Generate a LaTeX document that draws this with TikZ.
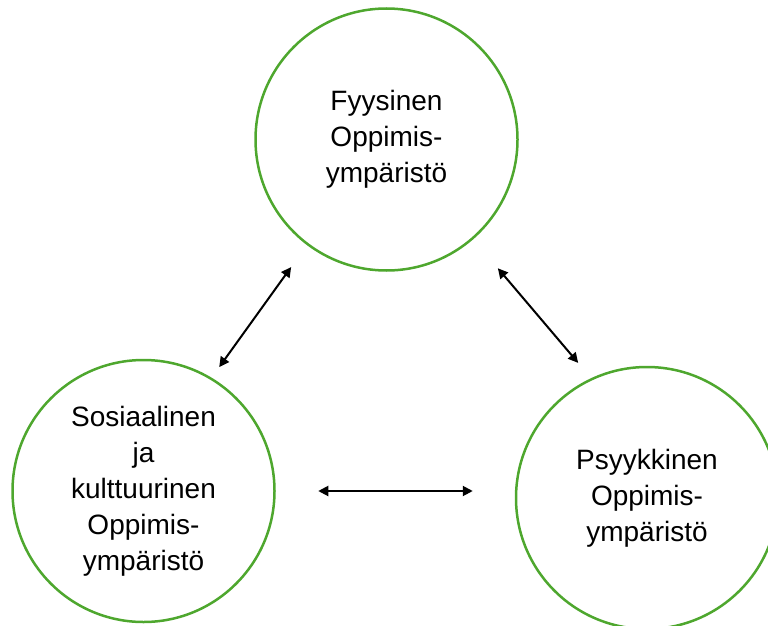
\documentclass[tikz,border=0pt]{standalone}
\usepackage{fontspec}
\setmainfont{Liberation Sans}
\usetikzlibrary{arrows.meta}
\definecolor{ringgreen}{HTML}{4EA72E}
\begin{document}
\begin{tikzpicture}[x=1pt,y=-1pt,
  ring/.style={circle,draw=ringgreen,line width=2.5pt,minimum size=262pt,inner sep=0pt,
    align=center,font=\fontsize{28}{36}\selectfont,
    execute at begin node={\vspace*{10pt}}},
  link/.style={line width=2pt,{Triangle[length=10pt,width=10pt]}-{Triangle[length=10pt,width=10pt]}}]
\useasboundingbox (0,0) rectangle (768,626);
\node[ring] (top) at (386.5,139.5) {Fyysinen\\Oppimis-\\ympäristö};
\node[ring] (left) at (143.5,491) {Sosiaalinen\\ja\\kulttuurinen\\Oppimis-\\ympäristö};
\node[ring] (right) at (647,498) {Psyykkinen\\Oppimis-\\ympäristö};
\draw[link,shorten <=27pt,shorten >=13pt] (top.233) -- (left.59);
\draw[link,shorten <=38pt,shorten >=20pt] (top.311) -- (right.115);
\draw[link,shorten <=42.5pt,shorten >=42pt] (left.0) -- (left.0 -| right.west);
\end{tikzpicture}
\end{document}
